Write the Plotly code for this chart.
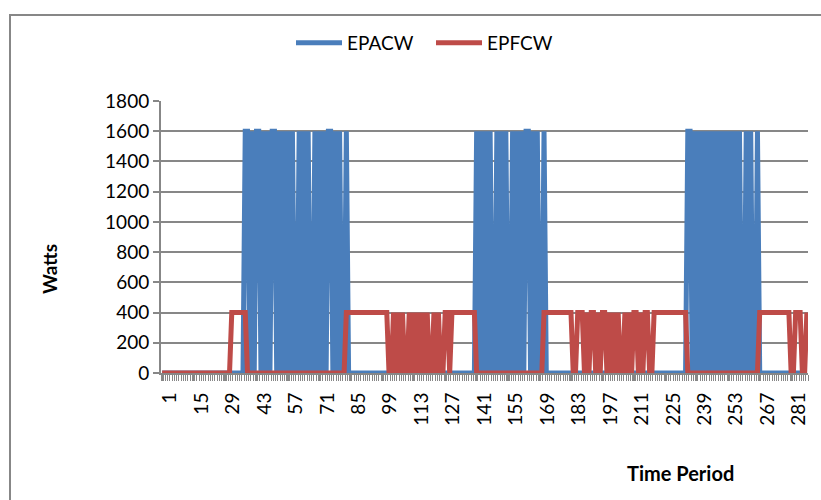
import plotly.graph_objects as go

# Time periods (categories 1..288)
PERIODS = list(range(1, 289))
TICK_VALUES = [1, 15, 29, 43, 57, 71, 85, 99, 113, 127, 141, 155, 169, 183, 197, 211, 225, 239, 253, 267, 281]
TICK_LABELS = [str(v) for v in TICK_VALUES]
Y_TICKS = [0, 200, 400, 600, 800, 1000, 1200, 1400, 1600, 1800]

EPACW = [
    0, 0, 0, 0, 0, 0, 0, 0, 0, 0, 0, 0, 0, 0, 0, 0, 0, 0, 0, 0, 0, 0, 0, 0,
    0, 0, 0, 0, 0, 0, 0, 0, 0, 0, 0, 0, 0, 1600, 1600, 0, 1600, 0, 1600, 1600, 0, 1600, 0, 1600,
    0, 1600, 1600, 0, 1600, 0, 1600, 0, 1600, 0, 1600, 0, 0, 1600, 0, 1600, 0, 1600, 0, 0, 1600, 0, 1600, 0,
    1600, 0, 1600, 1600, 0, 1600, 0, 1600, 0, 0, 1600, 0, 0, 0, 0, 0, 0, 0, 0, 0, 0, 0, 0, 0,
    0, 0, 0, 0, 0, 0, 0, 0, 0, 0, 0, 0, 0, 0, 0, 0, 0, 0, 0, 0, 0, 0, 0, 0,
    0, 0, 0, 0, 0, 0, 0, 0, 0, 0, 0, 0, 0, 0, 0, 0, 0, 0, 0, 0, 1600, 0, 1600, 0,
    1600, 0, 1600, 0, 0, 1600, 0, 1600, 0, 1600, 0, 0, 1600, 0, 1600, 0, 1600, 0, 1600, 1600, 0, 1600, 0, 1600,
    0, 0, 1600, 0, 0, 0, 0, 0, 0, 0, 0, 0, 0, 0, 0, 0, 0, 0, 0, 0, 0, 0, 0, 0,
    0, 0, 0, 0, 0, 0, 0, 0, 0, 0, 0, 0, 0, 0, 0, 0, 0, 0, 0, 0, 0, 0, 0, 0,
    0, 0, 0, 0, 0, 0, 0, 0, 0, 0, 0, 0, 0, 0, 0, 0, 0, 0, 1600, 1600, 0, 1600, 0, 1600,
    0, 1600, 0, 1600, 0, 1600, 0, 1600, 0, 1600, 0, 1600, 0, 1600, 0, 1600, 0, 1600, 0, 0, 1600, 0, 1600, 0,
    0, 1600, 0, 0, 0, 0, 0, 0, 0, 0, 0, 0, 0, 0, 0, 0, 0, 0, 0, 0, 0, 0, 0, 0,
]

EPFCW = [
    0, 0, 0, 0, 0, 0, 0, 0, 0, 0, 0, 0, 0, 0, 0, 0, 0, 0, 0, 0, 0, 0, 0, 0,
    0, 0, 0, 0, 0, 0, 0, 400, 400, 400, 400, 400, 400, 400, 0, 0, 0, 0, 0, 0, 0, 0, 0, 0,
    0, 0, 0, 0, 0, 0, 0, 0, 0, 0, 0, 0, 0, 0, 0, 0, 0, 0, 0, 0, 0, 0, 0, 0,
    0, 0, 0, 0, 0, 0, 0, 0, 0, 0, 400, 400, 400, 400, 400, 400, 400, 400, 400, 400, 400, 400, 400, 400,
    400, 400, 400, 400, 400, 0, 0, 400, 0, 400, 0, 400, 0, 0, 400, 0, 400, 0, 400, 0, 400, 0, 400, 0,
    0, 400, 0, 400, 0, 0, 400, 400, 0, 400, 400, 400, 400, 400, 400, 400, 400, 400, 400, 400, 0, 0, 0, 0,
    0, 0, 0, 0, 0, 0, 0, 0, 0, 0, 0, 0, 0, 0, 0, 0, 0, 0, 0, 0, 0, 0, 0, 0,
    0, 0, 400, 400, 400, 400, 400, 400, 400, 400, 400, 400, 400, 400, 400, 0, 0, 400, 400, 400, 0, 400, 0, 400,
    400, 0, 400, 0, 400, 400, 0, 400, 0, 400, 0, 400, 0, 0, 400, 0, 400, 0, 400, 400, 0, 400, 0, 400,
    400, 0, 0, 400, 400, 400, 400, 400, 400, 400, 400, 400, 400, 400, 400, 400, 400, 400, 0, 0, 0, 0, 0, 0,
    0, 0, 0, 0, 0, 0, 0, 0, 0, 0, 0, 0, 0, 0, 0, 0, 0, 0, 0, 0, 0, 0, 0, 0,
    0, 0, 400, 400, 400, 400, 400, 400, 400, 400, 400, 400, 400, 400, 400, 400, 0, 0, 400, 400, 400, 0, 0, 400,
]

BLUE = "#4A7EBB"
RED = "#BE4B48"
GRID = "#878787"
FONT = "Lato, 'Open Sans', sans-serif"

W, H = 821, 500
L, R, T, B = 161, 13, 101, 127
pw, ph = W - L - R, H - T - B


def px_x(p):
    return (p - L) / pw


def px_y(p):
    return (H - B - p) / ph


fig = go.Figure()
fig.add_trace(go.Scatter(x=PERIODS, y=EPACW, mode="lines", name="EPACW",
                         line=dict(color=BLUE, width=5, simplify=False)))
fig.add_trace(go.Scatter(x=PERIODS, y=EPFCW, mode="lines", name="EPFCW",
                         line=dict(color=RED, width=5, simplify=False)))

fig.update_layout(
    width=W, height=H,
    margin=dict(l=L, r=R, t=T, b=B, pad=0),
    paper_bgcolor="white", plot_bgcolor="white",
    font=dict(family=FONT, size=19, color="black"),
    showlegend=True,
    legend=dict(orientation="h", xref="container", yref="container",
                x=291 / W, y=1 - 43 / H, xanchor="left", yanchor="middle",
                font=dict(size=19), itemwidth=46, entrywidth=79, entrywidthmode="pixels",
                bgcolor="rgba(0,0,0,0)"),
    xaxis=dict(range=[0.5, 288.5], tickmode="array", tickvals=TICK_VALUES, ticktext=TICK_LABELS,
               tickangle=-90, showgrid=False, zeroline=False,
               showline=True, linecolor=GRID, linewidth=2,
               ticks="outside", ticklen=6, tickcolor=GRID, tickwidth=1.5,
               minor=dict(tickmode="linear", tick0=0.5, dtick=1, ticks="outside",
                          ticklen=6, tickcolor=GRID, tickwidth=1),
               ticklabelshift=8, ticklabelstandoff=4,
               tickfont=dict(size=19)),
    yaxis=dict(range=[0, 1800], tickmode="array", tickvals=Y_TICKS,
               ticktext=[str(v) for v in Y_TICKS],
               showgrid=True, gridcolor=GRID, gridwidth=1.5, zeroline=False,
               showline=True, linecolor=GRID, linewidth=2,
               ticks="outside", ticklen=6, tickcolor=GRID, tickwidth=1.5,
               tickfont=dict(size=19)),
    annotations=[
        dict(text="<b>Watts</b>", xref="paper", yref="paper", x=px_x(49), y=px_y(269),
             showarrow=False, textangle=-90, font=dict(size=19), xanchor="center", yanchor="middle"),
        dict(text="<b>Time Period</b>", xref="paper", yref="paper", x=px_x(680), y=px_y(473),
             showarrow=False, font=dict(size=20), xanchor="center", yanchor="middle"),
    ],
    shapes=[
        dict(type="rect", xref="paper", yref="paper", x0=px_x(10), x1=px_x(840),
             y0=px_y(520), y1=px_y(15), line=dict(color=GRID, width=2), fillcolor="rgba(0,0,0,0)",
             layer="below"),
    ],
)

fig.write_html("out.html")
